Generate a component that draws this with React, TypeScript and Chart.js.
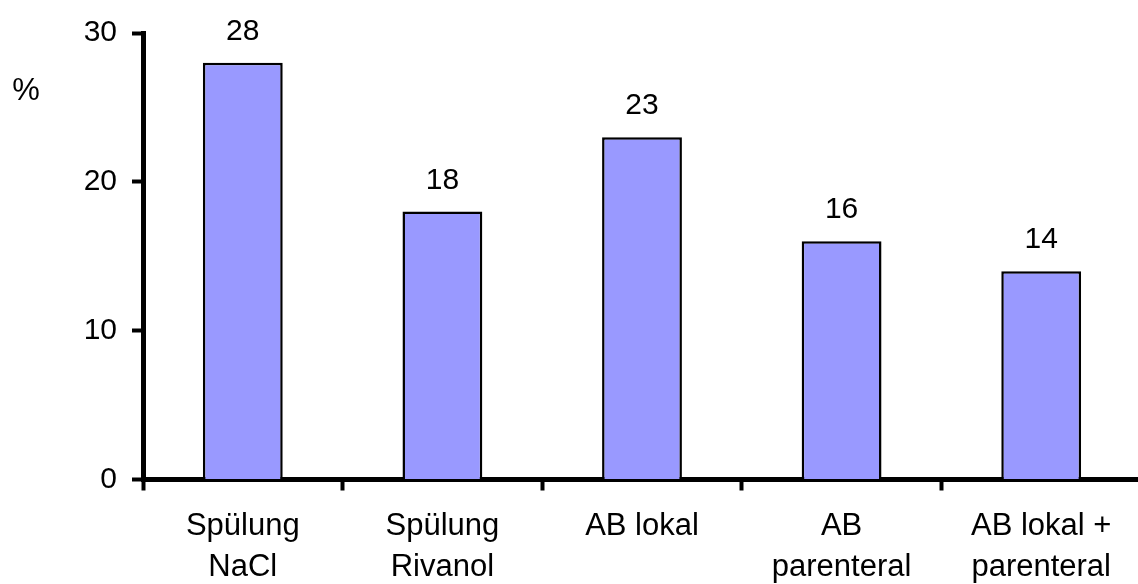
import React, { useEffect, useRef } from "react";
import { Chart, registerables } from "chart.js";

Chart.register(...registerables);

const categories: string[][] = [
  ["Spülung", "NaCl"],
  ["Spülung", "Rivanol"],
  ["AB lokal"],
  ["AB", "parenteral"],
  ["AB lokal +", "parenteral"],
];
const values: number[] = [28, 18, 23, 16, 14];
const yTicks: number[] = [0, 10, 20, 30];
const unitLabel = "%";

const FONT = "'Liberation Sans', Arial, Helvetica, sans-serif";
const NUM_SIZE = 30;
const CAT_SIZE = 31;

const valueLabels = {
  id: "valueLabels",
  afterDatasetsDraw(chart: any) {
    const ctx = chart.ctx;
    const meta = chart.getDatasetMeta(0);
    ctx.save();
    ctx.fillStyle = "#000";
    ctx.font = `${NUM_SIZE}px ${FONT}`;
    ctx.textAlign = "center";
    ctx.textBaseline = "alphabetic";
    meta.data.forEach((bar: any, i: number) => {
      ctx.fillText(String(values[i]), bar.x, bar.y - 23);
    });
    const area = chart.chartArea;
    ctx.font = `${CAT_SIZE}px ${FONT}`;
    ctx.textBaseline = "middle";
    ctx.fillText(unitLabel, area.left - 117, area.top + 58);
    ctx.restore();
  },
};

export default function App() {
  const ref = useRef<HTMLCanvasElement | null>(null);
  useEffect(() => {
    if (!ref.current) return;
    const chart = new Chart(ref.current, {
      type: "bar",
      data: {
        labels: categories,
        datasets: [
          {
            data: values,
            backgroundColor: "#9999FF",
            borderColor: "#000",
            borderWidth: 2.5,
            categoryPercentage: 1,
            barPercentage: 0.4,
          },
        ],
      },
      options: {
        animation: false,
        responsive: false,
        maintainAspectRatio: false,
        layout: { padding: { top: 31, right: 19, left: 0, bottom: 0 } },
        plugins: {
          legend: { display: false },
          tooltip: { enabled: false },
          title: { display: false },
        },
        scales: {
          x: {
            offset: true,
            grid: {
              offset: true,
              drawOnChartArea: false,
              drawTicks: true,
              tickLength: 11,
              tickWidth: 4,
              tickColor: "#000",
            },
            border: { display: true, color: "#000", width: 5 },
            ticks: {
              color: "#000",
              font: { family: FONT, size: CAT_SIZE, lineHeight: 1.31 },
              padding: 16,
              maxRotation: 0,
              autoSkip: false,
            },
            afterFit: (s: any) => {
              s.height = 104.5;
            },
          },
          y: {
            min: 0,
            max: 30,
            afterBuildTicks: (s: any) => {
              s.ticks = yTicks.map((v) => ({ value: v }));
            },
            grid: {
              drawOnChartArea: false,
              drawTicks: true,
              tickLength: 11,
              tickWidth: 4,
              tickColor: "#000",
            },
            border: { display: true, color: "#000", width: 5 },
            ticks: {
              color: "#000",
              font: { family: FONT, size: NUM_SIZE },
              padding: 15,
            },
            afterFit: (s: any) => {
              s.width = 143;
            },
          },
        },
      },
      plugins: [valueLabels],
    });
    return () => chart.destroy();
  }, []);
  return (
    <div style={{ position: "fixed", left: 0, top: 0, width: 1160, height: 584, background: "#fff" }}>
      <canvas ref={ref} width={1160} height={584} style={{ width: 1160, height: 584, display: "block" }} />
    </div>
  );
}
